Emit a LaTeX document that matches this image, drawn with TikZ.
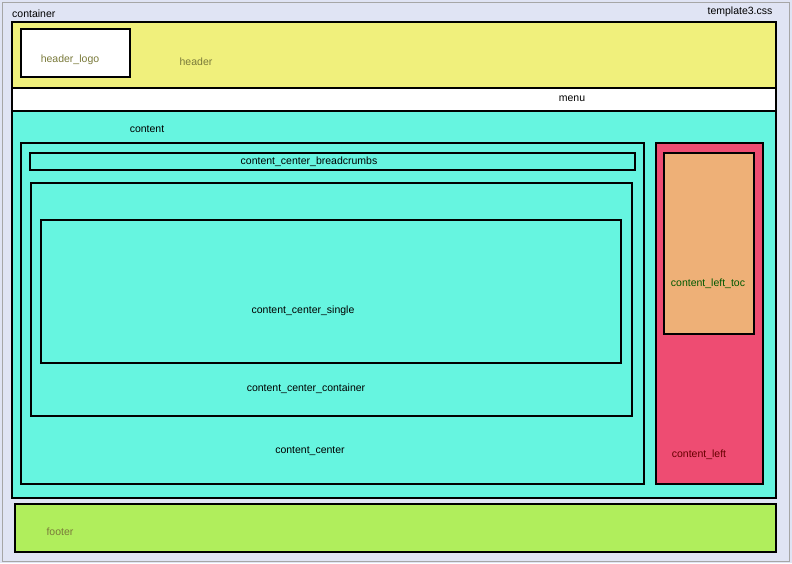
\documentclass[tikz,border=0pt]{standalone}
\usepackage{fontspec}
\setmainfont{Liberation Sans}
\definecolor{bg}{HTML}{E0E4F4}
\definecolor{hy}{HTML}{F0F07C}
\definecolor{cy}{HTML}{66F5E0}
\definecolor{rd}{HTML}{EE4C72}
\definecolor{og}{HTML}{EEB077}
\definecolor{gr}{HTML}{B0EE5C}
\definecolor{olive}{HTML}{7A7A3A}
\begin{document}
\begin{tikzpicture}[x=1pt,y=-1pt,
  box/.style={draw=black,line width=2pt},
  lbl/.style={font=\fontsize{10.5}{12}\selectfont,inner sep=0pt}]
\useasboundingbox (0,0) rectangle (792,563);
\fill[bg] (0,0) rectangle (792,563);
\draw[gray!70,line width=1pt] (2,2) rectangle (789,561);
\draw[box,fill=hy] (12,22) rectangle (776,88);
\draw[box,fill=white] (21,29) rectangle (130,77);
\draw[box,fill=white] (12,88) rectangle (776,111);
\draw[box,fill=cy] (12,111) rectangle (776,498);
\draw[box] (21,143) rectangle (644,484);
\draw[box] (30,153) rectangle (635,170);
\draw[box] (31,183) rectangle (632,416);
\draw[box] (41,220) rectangle (621,363);
\draw[box,fill=rd] (656,143) rectangle (763,484);
\draw[box,fill=og] (664,153) rectangle (754,334);
\draw[box,fill=gr] (15,504) rectangle (776,552);
\node[lbl,anchor=west] (n1) at (12,14) {container};
\node[lbl] (n2) at (740,12) {template3.css};
\node[lbl,text=olive] (n3) at (196,62) {header};
\node[lbl,text=olive] (n4) at (70,60) {header\_logo};
\node[lbl] (n5) at (572,99) {menu};
\node[lbl] (n6) at (147,129) {content};
\node[lbl] (n7) at (309,162) {content\_center\_breadcrumbs};
\node[lbl] (n8) at (303,311) {content\_center\_single};
\node[lbl] (n9) at (306,389) {content\_center\_container};
\node[lbl] (n10) at (310,451) {content\_center};
\node[lbl,text=green!35!black] (n11) at (708,284) {content\_left\_toc};
\node[lbl,text=red!40!black] (n12) at (699,455) {content\_left};
\node[lbl,text=olive] (n13) at (60,532) {footer};
\end{tikzpicture}
\end{document}
